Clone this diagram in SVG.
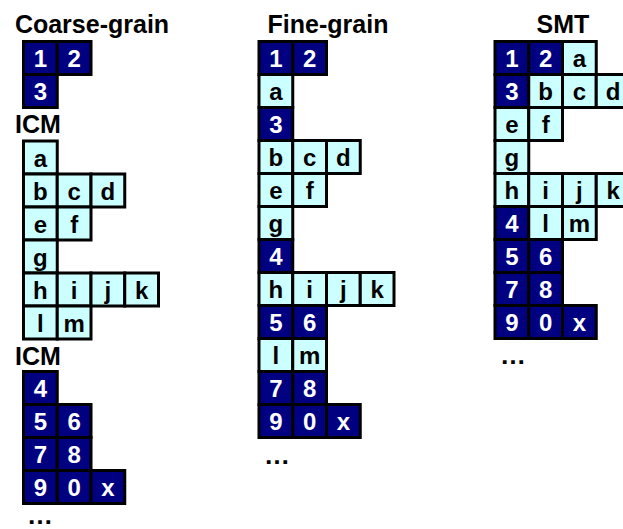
<svg xmlns="http://www.w3.org/2000/svg" width="623" height="529" viewBox="0 0 623 529">
<style>
.d,.l{stroke:#000;stroke-width:3}
.d{fill:#000080}
.l{fill:#ccffff}
text{font-family:"Liberation Sans",Arial,sans-serif;font-weight:bold}
.w,.b{font-size:24px;text-anchor:middle}
.w{fill:#fff}
.b{fill:#000}
.h{font-size:25px;fill:#000}
.hm{font-size:25px;fill:#000;text-anchor:middle}
.e{font-size:26px;fill:#000}
</style>
<rect width="623" height="529" fill="#fff"/>
<g id="headers">
<text class="hm" x="92" y="33">Coarse-grain</text>
<text class="hm" x="328" y="33">Fine-grain</text>
<text class="hm" x="563" y="33">SMT</text>
<text class="h" x="15" y="133">ICM</text>
<text class="h" x="15" y="365">ICM</text>
<text class="e" x="27" y="524">…</text>
<text class="e" x="264" y="464">…</text>
<text class="e" x="500" y="364">…</text>
</g>
<g id="connectors"></g>
<!-- Coarse-grain -->
<g id="c-1" transform="translate(23.5,41.5)"><rect class="d" width="33.75" height="33"/><text class="w" x="16.9" y="25.5">1</text></g>
<g id="c-2" transform="translate(57.25,41.5)"><rect class="d" width="33.75" height="33"/><text class="w" x="16.9" y="25.5">2</text></g>
<g id="c-3" transform="translate(23.5,74.5)"><rect class="d" width="33.75" height="33"/><text class="w" x="16.9" y="25.5">3</text></g>
<g id="c-a" transform="translate(23.5,141)"><rect class="l" width="33.75" height="33"/><text class="b" x="16.9" y="25.5">a</text></g>
<g id="c-b" transform="translate(23.5,174)"><rect class="l" width="33.75" height="33"/><text class="b" x="16.9" y="25.5">b</text></g>
<g id="c-c" transform="translate(57.25,174)"><rect class="l" width="33.75" height="33"/><text class="b" x="16.9" y="25.5">c</text></g>
<g id="c-d" transform="translate(91,174)"><rect class="l" width="33.75" height="33"/><text class="b" x="16.9" y="25.5">d</text></g>
<g id="c-e" transform="translate(23.5,207)"><rect class="l" width="33.75" height="33"/><text class="b" x="16.9" y="25.5">e</text></g>
<g id="c-f" transform="translate(57.25,207)"><rect class="l" width="33.75" height="33"/><text class="b" x="16.9" y="25.5">f</text></g>
<g id="c-g" transform="translate(23.5,240)"><rect class="l" width="33.75" height="33"/><text class="b" x="16.9" y="25.5">g</text></g>
<g id="c-h" transform="translate(23.5,273)"><rect class="l" width="33.75" height="33"/><text class="b" x="16.9" y="25.5">h</text></g>
<g id="c-i" transform="translate(57.25,273)"><rect class="l" width="33.75" height="33"/><text class="b" x="16.9" y="25.5">i</text></g>
<g id="c-j" transform="translate(91,273)"><rect class="l" width="33.75" height="33"/><text class="b" x="16.9" y="25.5">j</text></g>
<g id="c-k" transform="translate(124.75,273)"><rect class="l" width="33.75" height="33"/><text class="b" x="16.9" y="25.5">k</text></g>
<g id="c-l" transform="translate(23.5,306)"><rect class="l" width="33.75" height="33"/><text class="b" x="16.9" y="25.5">l</text></g>
<g id="c-m" transform="translate(57.25,306)"><rect class="l" width="33.75" height="33"/><text class="b" x="16.9" y="25.5">m</text></g>
<g id="c-4" transform="translate(23.5,371.5)"><rect class="d" width="33.75" height="33"/><text class="w" x="16.9" y="25.5">4</text></g>
<g id="c-5" transform="translate(23.5,404.5)"><rect class="d" width="33.75" height="33"/><text class="w" x="16.9" y="25.5">5</text></g>
<g id="c-6" transform="translate(57.25,404.5)"><rect class="d" width="33.75" height="33"/><text class="w" x="16.9" y="25.5">6</text></g>
<g id="c-7" transform="translate(23.5,437.5)"><rect class="d" width="33.75" height="33"/><text class="w" x="16.9" y="25.5">7</text></g>
<g id="c-8" transform="translate(57.25,437.5)"><rect class="d" width="33.75" height="33"/><text class="w" x="16.9" y="25.5">8</text></g>
<g id="c-9" transform="translate(23.5,470.5)"><rect class="d" width="33.75" height="33"/><text class="w" x="16.9" y="25.5">9</text></g>
<g id="c-0" transform="translate(57.25,470.5)"><rect class="d" width="33.75" height="33"/><text class="w" x="16.9" y="25.5">0</text></g>
<g id="c-x" transform="translate(91,470.5)"><rect class="d" width="33.75" height="33"/><text class="w" x="16.9" y="25.5">x</text></g>
<!-- Fine-grain -->
<g id="f-1" transform="translate(259,41.5)"><rect class="d" width="33.75" height="33"/><text class="w" x="16.9" y="25.5">1</text></g>
<g id="f-2" transform="translate(292.75,41.5)"><rect class="d" width="33.75" height="33"/><text class="w" x="16.9" y="25.5">2</text></g>
<g id="f-a" transform="translate(259,74.5)"><rect class="l" width="33.75" height="33"/><text class="b" x="16.9" y="25.5">a</text></g>
<g id="f-3" transform="translate(259,107.5)"><rect class="d" width="33.75" height="33"/><text class="w" x="16.9" y="25.5">3</text></g>
<g id="f-b" transform="translate(259,140.5)"><rect class="l" width="33.75" height="33"/><text class="b" x="16.9" y="25.5">b</text></g>
<g id="f-c" transform="translate(292.75,140.5)"><rect class="l" width="33.75" height="33"/><text class="b" x="16.9" y="25.5">c</text></g>
<g id="f-d" transform="translate(326.5,140.5)"><rect class="l" width="33.75" height="33"/><text class="b" x="16.9" y="25.5">d</text></g>
<g id="f-e" transform="translate(259,173.5)"><rect class="l" width="33.75" height="33"/><text class="b" x="16.9" y="25.5">e</text></g>
<g id="f-f" transform="translate(292.75,173.5)"><rect class="l" width="33.75" height="33"/><text class="b" x="16.9" y="25.5">f</text></g>
<g id="f-g" transform="translate(259,206.5)"><rect class="l" width="33.75" height="33"/><text class="b" x="16.9" y="25.5">g</text></g>
<g id="f-4" transform="translate(259,239.5)"><rect class="d" width="33.75" height="33"/><text class="w" x="16.9" y="25.5">4</text></g>
<g id="f-h" transform="translate(259,272.5)"><rect class="l" width="33.75" height="33"/><text class="b" x="16.9" y="25.5">h</text></g>
<g id="f-i" transform="translate(292.75,272.5)"><rect class="l" width="33.75" height="33"/><text class="b" x="16.9" y="25.5">i</text></g>
<g id="f-j" transform="translate(326.5,272.5)"><rect class="l" width="33.75" height="33"/><text class="b" x="16.9" y="25.5">j</text></g>
<g id="f-k" transform="translate(360.25,272.5)"><rect class="l" width="33.75" height="33"/><text class="b" x="16.9" y="25.5">k</text></g>
<g id="f-5" transform="translate(259,305.5)"><rect class="d" width="33.75" height="33"/><text class="w" x="16.9" y="25.5">5</text></g>
<g id="f-6" transform="translate(292.75,305.5)"><rect class="d" width="33.75" height="33"/><text class="w" x="16.9" y="25.5">6</text></g>
<g id="f-l" transform="translate(259,338.5)"><rect class="l" width="33.75" height="33"/><text class="b" x="16.9" y="25.5">l</text></g>
<g id="f-m" transform="translate(292.75,338.5)"><rect class="l" width="33.75" height="33"/><text class="b" x="16.9" y="25.5">m</text></g>
<g id="f-7" transform="translate(259,371.5)"><rect class="d" width="33.75" height="33"/><text class="w" x="16.9" y="25.5">7</text></g>
<g id="f-8" transform="translate(292.75,371.5)"><rect class="d" width="33.75" height="33"/><text class="w" x="16.9" y="25.5">8</text></g>
<g id="f-9" transform="translate(259,404.5)"><rect class="d" width="33.75" height="33"/><text class="w" x="16.9" y="25.5">9</text></g>
<g id="f-0" transform="translate(292.75,404.5)"><rect class="d" width="33.75" height="33"/><text class="w" x="16.9" y="25.5">0</text></g>
<g id="f-x" transform="translate(326.5,404.5)"><rect class="d" width="33.75" height="33"/><text class="w" x="16.9" y="25.5">x</text></g>
<!-- SMT -->
<g id="s-1" transform="translate(495,41.5)"><rect class="d" width="33.75" height="33"/><text class="w" x="16.9" y="25.5">1</text></g>
<g id="s-2" transform="translate(528.75,41.5)"><rect class="d" width="33.75" height="33"/><text class="w" x="16.9" y="25.5">2</text></g>
<g id="s-a" transform="translate(562.5,41.5)"><rect class="l" width="33.75" height="33"/><text class="b" x="16.9" y="25.5">a</text></g>
<g id="s-3" transform="translate(495,74.5)"><rect class="d" width="33.75" height="33"/><text class="w" x="16.9" y="25.5">3</text></g>
<g id="s-b" transform="translate(528.75,74.5)"><rect class="l" width="33.75" height="33"/><text class="b" x="16.9" y="25.5">b</text></g>
<g id="s-c" transform="translate(562.5,74.5)"><rect class="l" width="33.75" height="33"/><text class="b" x="16.9" y="25.5">c</text></g>
<g id="s-d" transform="translate(596.25,74.5)"><rect class="l" width="33.75" height="33"/><text class="b" x="16.9" y="25.5">d</text></g>
<g id="s-e" transform="translate(495,107.5)"><rect class="l" width="33.75" height="33"/><text class="b" x="16.9" y="25.5">e</text></g>
<g id="s-f" transform="translate(528.75,107.5)"><rect class="l" width="33.75" height="33"/><text class="b" x="16.9" y="25.5">f</text></g>
<g id="s-g" transform="translate(495,140.5)"><rect class="l" width="33.75" height="33"/><text class="b" x="16.9" y="25.5">g</text></g>
<g id="s-h" transform="translate(495,173.5)"><rect class="l" width="33.75" height="33"/><text class="b" x="16.9" y="25.5">h</text></g>
<g id="s-i" transform="translate(528.75,173.5)"><rect class="l" width="33.75" height="33"/><text class="b" x="16.9" y="25.5">i</text></g>
<g id="s-j" transform="translate(562.5,173.5)"><rect class="l" width="33.75" height="33"/><text class="b" x="16.9" y="25.5">j</text></g>
<g id="s-k" transform="translate(596.25,173.5)"><rect class="l" width="33.75" height="33"/><text class="b" x="16.9" y="25.5">k</text></g>
<g id="s-4" transform="translate(495,206.5)"><rect class="d" width="33.75" height="33"/><text class="w" x="16.9" y="25.5">4</text></g>
<g id="s-l" transform="translate(528.75,206.5)"><rect class="l" width="33.75" height="33"/><text class="b" x="16.9" y="25.5">l</text></g>
<g id="s-m" transform="translate(562.5,206.5)"><rect class="l" width="33.75" height="33"/><text class="b" x="16.9" y="25.5">m</text></g>
<g id="s-5" transform="translate(495,239.5)"><rect class="d" width="33.75" height="33"/><text class="w" x="16.9" y="25.5">5</text></g>
<g id="s-6" transform="translate(528.75,239.5)"><rect class="d" width="33.75" height="33"/><text class="w" x="16.9" y="25.5">6</text></g>
<g id="s-7" transform="translate(495,272.5)"><rect class="d" width="33.75" height="33"/><text class="w" x="16.9" y="25.5">7</text></g>
<g id="s-8" transform="translate(528.75,272.5)"><rect class="d" width="33.75" height="33"/><text class="w" x="16.9" y="25.5">8</text></g>
<g id="s-9" transform="translate(495,305.5)"><rect class="d" width="33.75" height="33"/><text class="w" x="16.9" y="25.5">9</text></g>
<g id="s-0" transform="translate(528.75,305.5)"><rect class="d" width="33.75" height="33"/><text class="w" x="16.9" y="25.5">0</text></g>
<g id="s-x" transform="translate(562.5,305.5)"><rect class="d" width="33.75" height="33"/><text class="w" x="16.9" y="25.5">x</text></g>
</svg>
